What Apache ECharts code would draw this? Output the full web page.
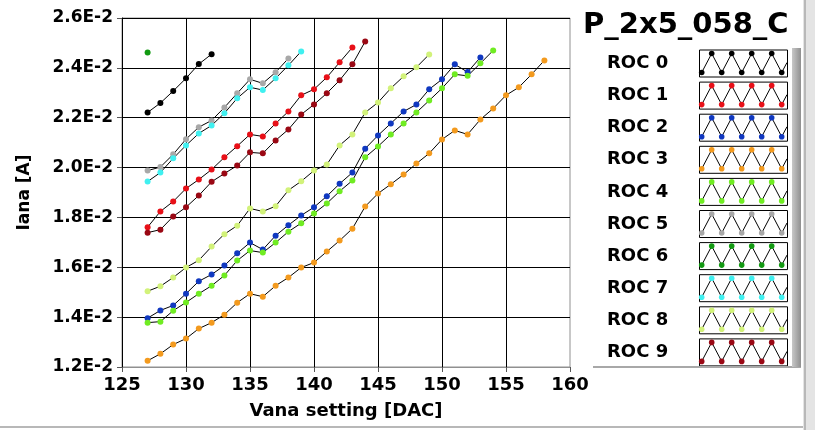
<!DOCTYPE html>
<html>
<head>
<meta charset="utf-8">
<script src="https://cdn.jsdelivr.net/npm/echarts@6/dist/echarts.min.js"></script>
<style>
  html, body { margin: 0; padding: 0; background: #fff; }
  #chart { width: 815px; height: 430px; }
</style>
</head>
<body>
<div id="chart"></div>
<script>
// Vana setting [DAC] -> Iana [A], one line per ROC
var rocNames = ['ROC 0', 'ROC 1', 'ROC 2', 'ROC 3', 'ROC 4', 'ROC 5', 'ROC 6', 'ROC 7', 'ROC 8', 'ROC 9'];
var rocColors = ['#000000', '#e81018', '#1038c0', '#f39a1e', '#70ec22', '#a8a8a8', '#129a12', '#40f0f0', '#d2f27a', '#9a0814'];
var xTicks = [125, 130, 135, 140, 145, 150, 155, 160];
var yTicks = [0.012, 0.014, 0.016, 0.018, 0.020, 0.022, 0.024, 0.026];

// first DAC value of every ROC scan
var startDac = [127, 127, 127, 127, 127, 127, 127, 127, 127, 127];

// Iana values in units of 1E-2 A
var roc0 = [2.221, 2.259, 2.307, 2.358, 2.415, 2.455];
var roc1 = [1.761, 1.824, 1.864, 1.916, 1.952, 1.992, 2.041, 2.086, 2.133, 2.125, 2.177, 2.225, 2.290, 2.314, 2.362, 2.422, 2.482];
var roc2 = [1.396, 1.427, 1.447, 1.494, 1.544, 1.571, 1.607, 1.656, 1.699, 1.671, 1.727, 1.769, 1.808, 1.841, 1.885, 1.935,
            1.980, 2.076, 2.129, 2.177, 2.225, 2.253, 2.314, 2.354, 2.414, 2.383, 2.442];
var roc3 = [1.225, 1.253, 1.290, 1.314, 1.354, 1.378, 1.410, 1.458, 1.494, 1.482, 1.526, 1.559, 1.599, 1.619, 1.663, 1.707,
            1.755, 1.844, 1.896, 1.933, 1.972, 2.016, 2.057, 2.113, 2.149, 2.133, 2.193, 2.237, 2.290, 2.322, 2.374, 2.430];
var roc4 = [1.378, 1.382, 1.426, 1.459, 1.494, 1.526, 1.567, 1.627, 1.667, 1.659, 1.699, 1.743, 1.777, 1.816, 1.856, 1.905,
            1.948, 2.041, 2.085, 2.133, 2.177, 2.221, 2.269, 2.318, 2.374, 2.368, 2.418, 2.470];
var roc5 = [1.988, 2.002, 2.053, 2.114, 2.162, 2.189, 2.241, 2.298, 2.354, 2.338, 2.382, 2.438];
var roc6 = [2.462];
var roc7 = [1.944, 1.980, 2.037, 2.089, 2.137, 2.169, 2.218, 2.278, 2.322, 2.311, 2.358, 2.410, 2.466];
var roc8 = [1.504, 1.524, 1.559, 1.599, 1.628, 1.683, 1.733, 1.767, 1.836, 1.824, 1.845, 1.909, 1.945, 1.988, 2.012, 2.089,
            2.133, 2.221, 2.261, 2.318, 2.366, 2.402, 2.454];
var roc9 = [1.739, 1.751, 1.804, 1.841, 1.888, 1.943, 1.976, 2.008, 2.061, 2.057, 2.109, 2.153, 2.213, 2.253, 2.298, 2.350,
            2.414, 2.506];
var rocValues = [roc0, roc1, roc2, roc3, roc4, roc5, roc6, roc7, roc8, roc9];

var FONT = 'DejaVu Sans';

var seriesList = [];
for (var i = 0; i < rocNames.length; i++) {
  var pts = [];
  for (var k = 0; k < rocValues[i].length; k++) {
    pts.push([startDac[i] + k, rocValues[i][k] / 100]);
  }
  seriesList.push({
    name: rocNames[i],
    type: 'line',
    data: pts,
    symbol: 'circle',
    symbolSize: 6,
    showSymbol: true,
    animation: false,
    itemStyle: {color: rocColors[i]},
    lineStyle: {color: '#000', width: 1}
  });
}

// legend panel: drawn by hand to get the zigzag sample boxes
var legendGraphics = [];
legendGraphics.push({
  type: 'text', left: 583, top: 11,
  style: {text: 'P_2x5_058_C', font: 'bold 29px "DejaVu Sans"', fill: '#000'}
});
for (var r = 0; r < rocNames.length; r++) {
  var cy = 63.5 + r * 32.1;
  legendGraphics.push({
    type: 'text', x: 607, y: cy,
    style: {text: rocNames[r], font: 'bold 18px "DejaVu Sans"', fill: '#000', textVerticalAlign: 'middle'}
  });
  legendGraphics.push({
    type: 'rect', shape: {x: 699.5, y: cy - 13.5, width: 88, height: 27},
    style: {fill: '#fff', stroke: '#000', lineWidth: 1}
  });
  var zig = [];
  for (var z = 0; z < 9; z++) {
    zig.push([701.7 + z * 10, z % 2 === 0 ? cy + 9 : cy - 10]);
  }
  zig.push([787, cy - 1]);
  legendGraphics.push({
    type: 'polyline', shape: {points: zig},
    style: {stroke: '#000', lineWidth: 1, fill: null}
  });
  for (var d = 0; d < 9; d++) {
    legendGraphics.push({
      type: 'circle', shape: {cx: zig[d][0], cy: zig[d][1], r: 2.8},
      style: {fill: rocColors[r]}
    });
  }
}
// window frame bits
legendGraphics.push({type: 'line', shape: {x1: 593, y1: 367, x2: 801, y2: 367}, style: {stroke: '#a8a8a8', lineWidth: 2}});
legendGraphics.push({type: 'rect', shape: {x: 792, y: 48, width: 9, height: 319},
  style: {fill: {type: 'linear', x: 0, y: 0, x2: 1, y2: 0, colorStops: [{offset: 0, color: '#c8c8c8'}, {offset: 1, color: '#909090'}]}}});
legendGraphics.push({type: 'rect', shape: {x: 803, y: 0, width: 12, height: 430}, style: {fill: '#e4e4e4'}});
legendGraphics.push({type: 'line', shape: {x1: 805, y1: 0, x2: 805, y2: 430}, style: {stroke: '#b8b8b8', lineWidth: 2}});
legendGraphics.push({type: 'line', shape: {x1: 0, y1: 427, x2: 803, y2: 427}, style: {stroke: '#b8b8b8', lineWidth: 2}});

var myChart = echarts.init(document.getElementById('chart'));
var option = {
  backgroundColor: '#fff',
  animation: false,
  textStyle: {fontFamily: FONT},
  grid: {left: 122, top: 18, right: 245, bottom: 63, show: true, borderColor: '#909090', borderWidth: 1},
  xAxis: {
    type: 'value',
    min: xTicks[0], max: xTicks[xTicks.length - 1], interval: 5,
    name: 'Vana setting [DAC]',
    nameLocation: 'middle', nameGap: 35,
    nameTextStyle: {fontFamily: FONT, fontWeight: 'bold', fontSize: 18, color: '#000'},
    axisLine: {show: true, lineStyle: {color: '#909090', width: 1}},
    axisTick: {show: true, length: 5, lineStyle: {color: '#555'}},
    axisLabel: {fontFamily: FONT, fontWeight: 'bold', fontSize: 18, color: '#000', margin: 9},
    splitLine: {show: true, showMaxLine: false, lineStyle: {color: '#000', width: 1}}
  },
  yAxis: {
    type: 'value',
    min: yTicks[0], max: yTicks[yTicks.length - 1], interval: 0.002,
    name: 'Iana [A]',
    nameLocation: 'middle', nameGap: 89, nameRotate: 90,
    nameTextStyle: {fontFamily: FONT, fontWeight: 'bold', fontSize: 17, color: '#000'},
    axisLine: {show: true, lineStyle: {color: '#000', width: 1}},
    axisTick: {show: true, length: 5, lineStyle: {color: '#555'}},
    axisLabel: {
      fontFamily: FONT, fontWeight: 'bold', fontSize: 17, color: '#000', margin: 9,
      formatter: function (v) { return (v * 100).toFixed(1) + 'E-2'; }
    },
    splitLine: {show: true, lineStyle: {color: '#000', width: 1}}
  },
  series: seriesList,
  graphic: legendGraphics
};
myChart.setOption(option);
</script>
</body>
</html>
